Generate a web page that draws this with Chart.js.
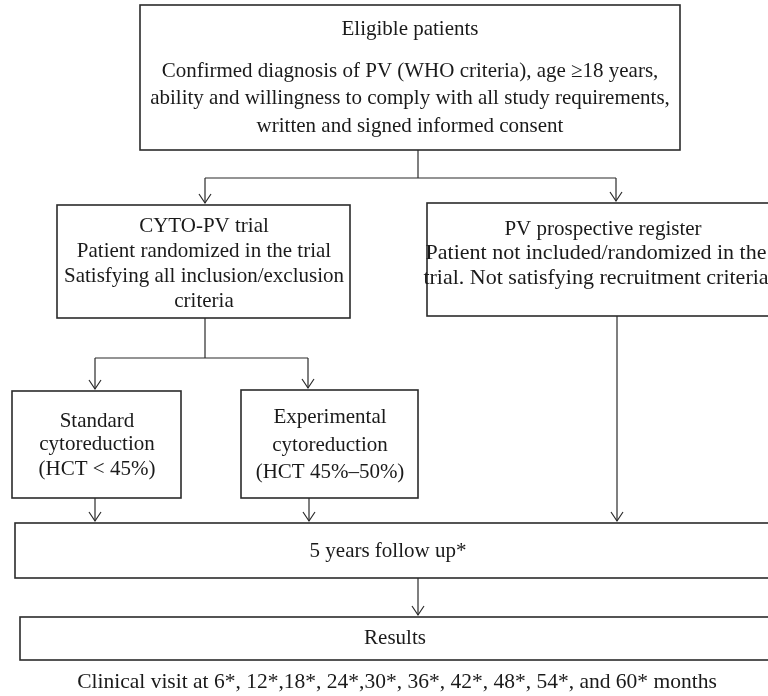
<!DOCTYPE html>
<html>
<head>
<meta charset="utf-8">
<script src="https://cdn.jsdelivr.net/npm/chart.js@4.4.1/dist/chart.umd.min.js"></script>
<style>
  html, body { margin: 0; padding: 0; background: #fff; }
  canvas { display: block; }
</style>
</head>
<body>
<canvas id="flow" width="768" height="696"></canvas>
<script>
// texto de cada caixa
const eligibleLines = [
  "Eligible patients",
  "Confirmed diagnosis of PV (WHO criteria), age \u226518 years,",
  "ability and willingness to comply with all study requirements,",
  "written and signed informed consent"
];
const cytoLines = [
  "CYTO-PV trial",
  "Patient randomized in the trial",
  "Satisfying all inclusion/exclusion",
  "criteria"
];
const registerTitle = ["PV prospective register"];
const registerLines = [
  "Patient not included/randomized in the",
  "trial. Not satisfying recruitment criteria"
];
const standardLines = ["Standard", "cytoreduction", "(HCT < 45%)"];
const experimentalLines = ["Experimental", "cytoreduction", "(HCT 45%\u201350%)"];
const followUpLines = ["5 years follow up*"];
const resultsLines = ["Results"];
const captionLines = ["Clinical visit at 6*, 12*,18*, 24*,30*, 36*, 42*, 48*, 54*, and 60* months"];

// geometria (unidades da escala = px da figura)
const nodes = [
  { lines: eligibleLines, box: [140, 5, 680, 150], cx: 410, base: [35, 77, 104, 132] },
  { lines: cytoLines, box: [57, 205, 350, 318], cx: 204, base: [232, 257, 282, 307] },
  { lines: registerTitle, box: [427, 203, 780, 316], cx: 603, base: [235] },
  { lines: registerLines, box: null, cx: 596, base: [259, 284], size: 22 },
  { lines: standardLines, box: [12, 391, 181, 498], cx: 97, base: [427, 450, 475] },
  { lines: experimentalLines, box: [241, 390, 418, 498], cx: 330, base: [423, 451, 478] },
  { lines: followUpLines, box: [15, 523, 790, 578], cx: 388, base: [557] },
  { lines: resultsLines, box: [20, 617, 790, 660], cx: 395, base: [644] },
  { lines: captionLines, box: null, cx: 397, base: [688], size: 21.5 }
];

// ligações: [x, y] ... ; arrow = ponta no último ponto
const links = [
  { pts: [[418, 150], [418, 178]], arrow: false },
  { pts: [[205, 178], [616, 178]], arrow: false },
  { pts: [[205, 178], [205, 203]], arrow: true },
  { pts: [[616, 178], [616, 201]], arrow: true },
  { pts: [[205, 318], [205, 358]], arrow: false },
  { pts: [[95, 358], [308, 358]], arrow: false },
  { pts: [[95, 358], [95, 389]], arrow: true },
  { pts: [[308, 358], [308, 388]], arrow: true },
  { pts: [[95, 498], [95, 521]], arrow: true },
  { pts: [[309, 498], [309, 521]], arrow: true },
  { pts: [[617, 316], [617, 521]], arrow: true },
  { pts: [[418, 578], [418, 615]], arrow: true }
];

const INK = "#2b2b2b";
const FAMILY = "'Liberation Serif', 'DejaVu Serif', serif";

const flowPlugin = {
  id: "flowPlugin",
  afterDatasetsDraw(chart) {
    const ctx = chart.ctx;
    const sx = chart.scales.x;
    const sy = chart.scales.y;
    ctx.save();
    // caixas
    ctx.strokeStyle = INK;
    ctx.lineWidth = 1.6;
    nodes.forEach((n) => {
      if (!n.box) return;
      const x0 = sx.getPixelForValue(n.box[0]);
      const y0 = sy.getPixelForValue(n.box[1]);
      const x1 = sx.getPixelForValue(n.box[2]);
      const y1 = sy.getPixelForValue(n.box[3]);
      ctx.strokeRect(x0, y0, x1 - x0, y1 - y0);
    });
    // pontas das setas
    ctx.lineWidth = 1.2;
    links.forEach((l) => {
      if (!l.arrow) return;
      const p = l.pts[l.pts.length - 1];
      const x = sx.getPixelForValue(p[0]);
      const y = sy.getPixelForValue(p[1]);
      ctx.beginPath();
      ctx.moveTo(x - 6, y - 9);
      ctx.lineTo(x, y);
      ctx.lineTo(x + 6, y - 9);
      ctx.stroke();
    });
    // textos
    ctx.fillStyle = "#1a1a1a";
    ctx.textAlign = "center";
    ctx.textBaseline = "alphabetic";
    nodes.forEach((n) => {
      ctx.font = (n.size || 21) + "px " + FAMILY;
      n.lines.forEach((t, i) => {
        ctx.fillText(t, sx.getPixelForValue(n.cx), sy.getPixelForValue(n.base[i]));
      });
    });
    ctx.restore();
  }
};

const datasets = links.map((l) => ({
  data: l.pts.map((p) => ({ x: p[0], y: p[1] })),
  showLine: true,
  borderColor: INK,
  borderWidth: 1.2,
  pointRadius: 0,
  fill: false,
  tension: 0
}));

new Chart(document.getElementById("flow"), {
  type: "scatter",
  data: { datasets: datasets },
  options: {
    responsive: false,
    animation: false,
    devicePixelRatio: 1,
    layout: { padding: 0 },
    plugins: { legend: { display: false }, tooltip: { enabled: false } },
    scales: {
      x: { type: "linear", min: 0, max: 768, display: false },
      y: { type: "linear", min: 0, max: 696, reverse: true, display: false }
    }
  },
  plugins: [flowPlugin]
});
</script>
</body>
</html>
